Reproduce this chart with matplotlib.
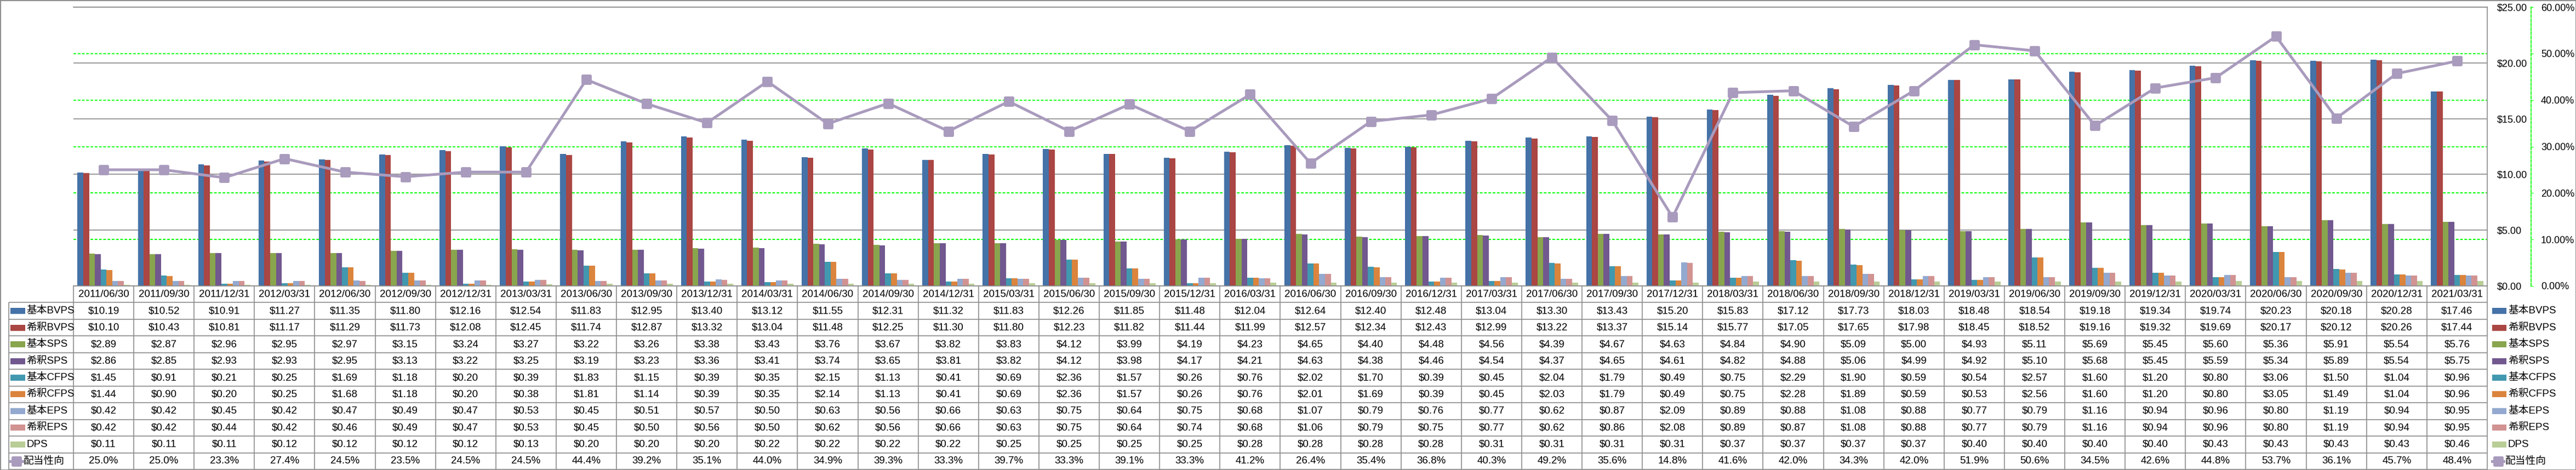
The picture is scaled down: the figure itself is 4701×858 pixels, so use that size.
import numpy as np
import matplotlib
matplotlib.use("Agg")
import matplotlib.pyplot as plt
from matplotlib import font_manager
from matplotlib.markers import MarkerStyle
from matplotlib.patches import Rectangle

plt.rcParams['font.family'] = ['Liberation Sans', 'Noto Sans CJK JP', 'DejaVu Sans']

# table text uses a narrow face when it is installed
try:
    font_manager.findfont('Liberation Sans Narrow', fallback_to_default=False)
    table_family = ['Liberation Sans Narrow', 'Noto Sans CJK JP', 'DejaVu Sans']
    fs = 15.5
except ValueError:
    table_family = ['Liberation Sans', 'Noto Sans CJK JP', 'DejaVu Sans']
    fs = 13.5

dates = ['2011/06/30', '2011/09/30', '2011/12/31', '2012/03/31', '2012/06/30', '2012/09/30',
         '2012/12/31', '2013/03/31', '2013/06/30', '2013/09/30', '2013/12/31', '2014/03/31',
         '2014/06/30', '2014/09/30', '2014/12/31', '2015/03/31', '2015/06/30', '2015/09/30',
         '2015/12/31', '2016/03/31', '2016/06/30', '2016/09/30', '2016/12/31', '2017/03/31',
         '2017/06/30', '2017/09/30', '2017/12/31', '2018/03/31', '2018/06/30', '2018/09/30',
         '2018/12/31', '2019/03/31', '2019/06/30', '2019/09/30', '2019/12/31', '2020/03/31',
         '2020/06/30', '2020/09/30', '2020/12/31', '2021/03/31']

bvps_basic = [10.19, 10.52, 10.91, 11.27, 11.35, 11.80, 12.16, 12.54, 11.83, 12.95, 13.40, 13.12,
              11.55, 12.31, 11.32, 11.83, 12.26, 11.85, 11.48, 12.04, 12.64, 12.40, 12.48, 13.04,
              13.30, 13.43, 15.20, 15.83, 17.12, 17.73, 18.03, 18.48, 18.54, 19.18, 19.34, 19.74,
              20.23, 20.18, 20.28, 17.46]
bvps_dil = [10.10, 10.43, 10.81, 11.17, 11.29, 11.73, 12.08, 12.45, 11.74, 12.87, 13.32, 13.04,
            11.48, 12.25, 11.30, 11.80, 12.23, 11.82, 11.44, 11.99, 12.57, 12.34, 12.43, 12.99,
            13.22, 13.37, 15.14, 15.77, 17.05, 17.65, 17.98, 18.45, 18.52, 19.16, 19.32, 19.69,
            20.17, 20.12, 20.26, 17.44]
sps_basic = [2.89, 2.87, 2.96, 2.95, 2.97, 3.15, 3.24, 3.27, 3.22, 3.26, 3.38, 3.43,
             3.76, 3.67, 3.82, 3.83, 4.12, 3.99, 4.19, 4.23, 4.65, 4.40, 4.48, 4.56,
             4.39, 4.67, 4.63, 4.84, 4.90, 5.09, 5.00, 4.93, 5.11, 5.69, 5.45, 5.60,
             5.36, 5.91, 5.54, 5.76]
sps_dil = [2.86, 2.85, 2.93, 2.93, 2.95, 3.13, 3.22, 3.25, 3.19, 3.23, 3.36, 3.41,
           3.74, 3.65, 3.81, 3.82, 4.12, 3.98, 4.17, 4.21, 4.63, 4.38, 4.46, 4.54,
           4.37, 4.65, 4.61, 4.82, 4.88, 5.06, 4.99, 4.92, 5.10, 5.68, 5.45, 5.59,
           5.34, 5.89, 5.54, 5.75]
cfps_basic = [1.45, 0.91, 0.21, 0.25, 1.69, 1.18, 0.20, 0.39, 1.83, 1.15, 0.39, 0.35,
              2.15, 1.13, 0.41, 0.69, 2.36, 1.57, 0.26, 0.76, 2.02, 1.70, 0.39, 0.45,
              2.04, 1.79, 0.49, 0.75, 2.29, 1.90, 0.59, 0.54, 2.57, 1.60, 1.20, 0.80,
              3.06, 1.50, 1.04, 0.96]
cfps_dil = [1.44, 0.90, 0.20, 0.25, 1.68, 1.18, 0.20, 0.38, 1.81, 1.14, 0.39, 0.35,
            2.14, 1.13, 0.41, 0.69, 2.36, 1.57, 0.26, 0.76, 2.01, 1.69, 0.39, 0.45,
            2.03, 1.79, 0.49, 0.75, 2.28, 1.89, 0.59, 0.53, 2.56, 1.60, 1.20, 0.80,
            3.05, 1.49, 1.04, 0.96]
eps_basic = [0.42, 0.42, 0.45, 0.42, 0.47, 0.49, 0.47, 0.53, 0.45, 0.51, 0.57, 0.50,
             0.63, 0.56, 0.66, 0.63, 0.75, 0.64, 0.75, 0.68, 1.07, 0.79, 0.76, 0.77,
             0.62, 0.87, 2.09, 0.89, 0.88, 1.08, 0.88, 0.77, 0.79, 1.16, 0.94, 0.96,
             0.80, 1.19, 0.94, 0.95]
eps_dil = [0.42, 0.42, 0.44, 0.42, 0.46, 0.49, 0.47, 0.53, 0.45, 0.50, 0.56, 0.50,
           0.62, 0.56, 0.66, 0.63, 0.75, 0.64, 0.74, 0.68, 1.06, 0.79, 0.75, 0.77,
           0.62, 0.86, 2.08, 0.89, 0.87, 1.08, 0.88, 0.77, 0.79, 1.16, 0.94, 0.96,
           0.80, 1.19, 0.94, 0.95]
dps = [0.11, 0.11, 0.11, 0.12, 0.12, 0.12, 0.12, 0.13, 0.20, 0.20, 0.20, 0.22,
       0.22, 0.22, 0.22, 0.25, 0.25, 0.25, 0.25, 0.28, 0.28, 0.28, 0.28, 0.31,
       0.31, 0.31, 0.31, 0.37, 0.37, 0.37, 0.37, 0.40, 0.40, 0.40, 0.40, 0.43,
       0.43, 0.43, 0.43, 0.46]
payout = [25.0, 25.0, 23.3, 27.4, 24.5, 23.5, 24.5, 24.5, 44.4, 39.2, 35.1, 44.0,
          34.9, 39.3, 33.3, 39.7, 33.3, 39.1, 33.3, 41.2, 26.4, 35.4, 36.8, 40.3,
          49.2, 35.6, 14.8, 41.6, 42.0, 34.3, 42.0, 51.9, 50.6, 34.5, 42.6, 44.8,
          53.7, 36.1, 45.7, 48.4]

bar_names = ['基本BVPS', '希釈BVPS', '基本SPS', '希釈SPS', '基本CFPS', '希釈CFPS',
             '基本EPS', '希釈EPS', 'DPS']
bar_values = [bvps_basic, bvps_dil, sps_basic, sps_dil, cfps_basic, cfps_dil,
              eps_basic, eps_dil, dps]
bar_colors = ['#4572A7', '#AA4643', '#89A54E', '#71588F', '#4198AF', '#DB843D',
              '#93A9CF', '#D19392', '#B9CD96']
line_name = '配当性向'
line_color = '#A99BBD'

W, H = 4701, 858
fig = plt.figure(figsize=(W / 100, H / 100), dpi=100)

# pixel layout of the plot area
pl, pr, pt, pb = 134, 4539, 13, 522
ax = fig.add_axes([pl / W, 1 - pb / H, (pr - pl) / W, (pb - pt) / H])
ax2 = ax.twinx()

n = len(dates)
x = np.arange(n)
bw = 0.096
for i, (vals, col) in enumerate(zip(bar_values, bar_colors)):
    ax.bar(x + (i - 4) * bw, vals, bw, color=col, zorder=2)

ax.set_xlim(-0.5, n - 0.5)
ax.set_ylim(0, 25)
ax.set_xticks([])
ax.set_yticks(np.arange(0, 26, 5))
ax.yaxis.set_major_formatter(lambda v, p: '$%.2f' % v)
ax.yaxis.tick_right()
ax.tick_params(axis='y', which='both', left=False, labelleft=False, right=False,
               labelright=True, length=0, pad=13, labelsize=13)
ax.grid(axis='y', color='#8A8A8A', lw=1.2)
ax.set_axisbelow(True)
for p in range(10, 60, 10):
    ax.axhline(p * 25 / 60, color='#00FF00', ls=(0, (2.5, 1.5)), lw=1.4, zorder=1)
ax.spines['left'].set_visible(False)
for s in ['top', 'right', 'bottom']:
    ax.spines[s].set_color('#8A8A8A')
    ax.spines[s].set_linewidth(1.2)

ax2.set_ylim(0, 60)
mk = MarkerStyle('s', joinstyle='round')
ax2.plot(x, payout, color=line_color, lw=3.6, marker=mk, ms=10, mew=3.5,
         mec=line_color, mfc=line_color, zorder=3)
ax2.set_yticks(np.arange(0, 61, 10))
ax2.yaxis.set_major_formatter(lambda v, p: '%.2f%%' % v)
for s in ['top', 'left', 'bottom']:
    ax2.spines[s].set_visible(False)
ax2.spines['right'].set_position(('outward', 57.6))
ax2.spines['right'].set_color('#00FF00')
ax2.spines['right'].set_linestyle((0, (2.5, 1.5)))
ax2.spines['right'].set_linewidth(1.4)
ax2.tick_params(axis='y', direction='out', length=3, color='#00FF00', pad=10, labelsize=13)

# data table below the plot
u = (pr - pl) / n
def xu(px):
    return -0.5 + (px - pl) / u

tb = 857
tax = fig.add_axes([0, 1 - tb / H, 1, (tb - pb) / H])
tax.set_xlim(xu(0), xu(W))
tax.set_ylim(11, 0)
tax.axis('off')
gc = '#8C8C8C'
tax.hlines(np.arange(1, 12), xu(16), n - 0.5, color=gc, lw=1.2)
tax.vlines(np.arange(n + 1) - 0.5, 0, 11, color=gc, lw=1.2)
tax.vlines(xu(16), 1, 11, color=gc, lw=1.2)

tk = dict(ha='center', va='center', fontsize=fs, family=table_family)
for k in range(n):
    tax.text(k, 0.5, dates[k], **tk)
    for r, vals in enumerate(bar_values):
        tax.text(k, r + 1.5, '$%.2f' % vals[k], **tk)
    tax.text(k, 10.5, '%.1f%%' % payout[k], **tk)

# legend keys on both sides of the table
for lx0, lx1, tx in [(19, 46, 48), (4548, 4574, 4577)]:
    for r, (name, col) in enumerate(zip(bar_names, bar_colors)):
        yc = r + 1.5
        tax.add_patch(Rectangle((xu(lx0), yc - 0.18), xu(lx1) - xu(lx0), 0.36,
                                color=col, lw=0))
        tax.text(xu(tx), yc, name, ha='left', va='center', fontsize=fs,
                 family=table_family)
    xm = [xu(lx0), (xu(lx0) + xu(lx1 - 5)) / 2, xu(lx1 - 5)]
    tax.plot(xm, [10.5] * 3, color=line_color, lw=3.6, marker=mk, ms=10, mew=3.5,
             markevery=[1], clip_on=False)
    tax.text(xu(tx - 5), 10.5, line_name, ha='left', va='center', fontsize=fs,
             family=table_family)

fig.add_artist(Rectangle((0, 0), 1, 1, transform=fig.transFigure, fill=False,
                         ec='#8A8A8A', lw=2))

fig.savefig('out.png', dpi=100)
